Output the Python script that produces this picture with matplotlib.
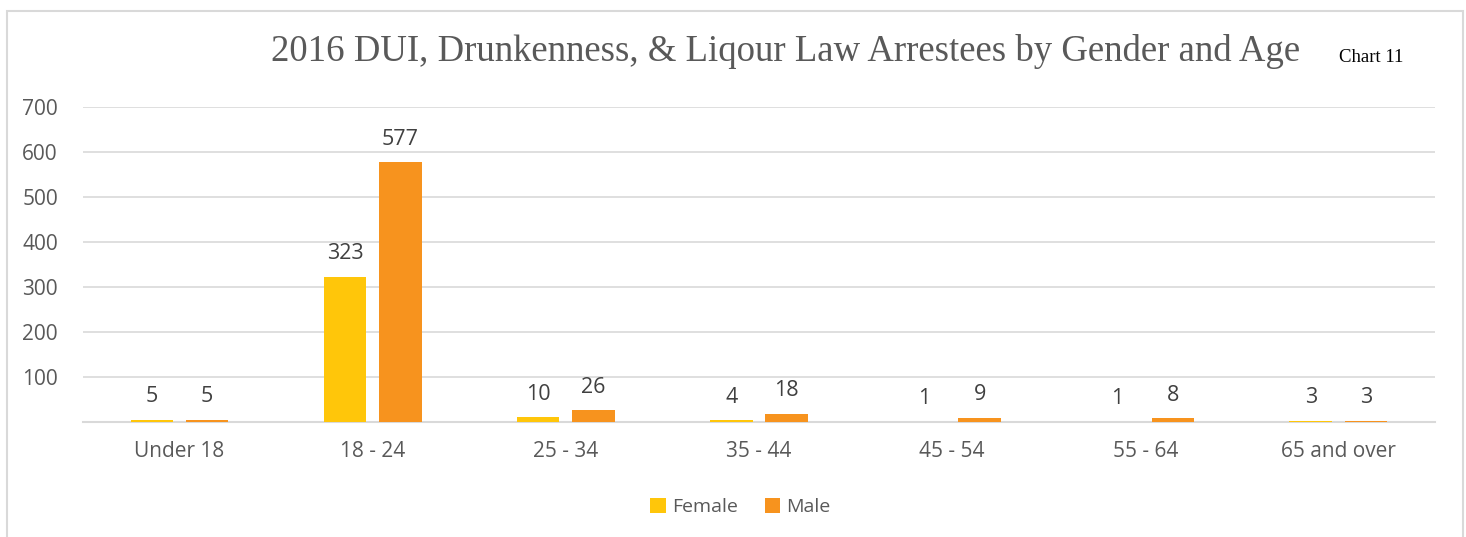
import matplotlib.pyplot as plt
import numpy as np
from matplotlib.patches import Rectangle

# Data
ages = ['Under 18', '18 - 24', '25 - 34', '35 - 44', '45 - 54', '55 - 64', '65 and over']
female = [5, 323, 10, 4, 1, 1, 3]
male = [5, 577, 26, 18, 9, 8, 3]
yticks = [100, 200, 300, 400, 500, 600, 700]

grey = '#595959'
plt.rcParams['font.family'] = ['Open Sans', 'DejaVu Sans']

fig = plt.figure(figsize=(14.66, 5.37), dpi=100)
ax = fig.add_axes([0.0566, 0.2142, 0.9222, 0.5866])

x = np.arange(len(ages))
w = 0.22
bf = ax.bar(x - 0.143, female, w, color='#FFC60A', label='Female', zorder=3)
bm = ax.bar(x + 0.143, male, w, color='#F7931E', label='Male', zorder=3)

# value labels above bars
for bars, vals in [(bf, female), (bm, male)]:
    for b, v in zip(bars, vals):
        ax.annotate(str(v), (b.get_x() + b.get_width() / 2, v),
                    xytext=(0, 9), textcoords='offset points',
                    ha='center', va='bottom', fontsize=15.5, color='#404040')

ax.set_xlim(-0.5, len(ages) - 0.5)
ax.set_ylim(0, 700)
ax.set_yticks(yticks)
ax.set_xticks(x)
ax.set_xticklabels(ages)
ax.tick_params(axis='both', length=0, labelsize=15, labelcolor=grey)
ax.tick_params(axis='y', pad=18)
ax.tick_params(axis='x', pad=14)
ax.grid(axis='y', color='#D9D9D9', linewidth=1.2, zorder=0)
for s in ['top', 'right', 'left']:
    ax.spines[s].set_visible(False)
ax.spines['bottom'].set_color('#D9D9D9')
ax.spines['bottom'].set_linewidth(1.5)

fig.text(0.536, 0.905, '2016 DUI, Drunkenness, & Liqour Law Arrestees by Gender and Age',
         ha='center', va='center', fontsize=26.5, color=grey, family='Liberation Serif')
fig.text(0.935, 0.892, 'Chart 11', ha='center', va='center', fontsize=13.5,
         color='black', family='Liberation Serif')

fig.legend(handles=[bf, bm], loc='center', bbox_to_anchor=(0.505, 0.056), ncol=2,
           frameon=False, fontsize=14, handlelength=0.8, handleheight=0.8,
           handletextpad=0.3, columnspacing=1.4, labelcolor=grey)

# light frame around the chart
fig.patches.append(Rectangle((7 / 1466, -0.01), 1456 / 1466, 1 - 11 / 537 + 0.01,
                             transform=fig.transFigure, fill=False,
                             edgecolor='#D9D9D9', linewidth=1.5))

fig.savefig('out.png', dpi=100)
